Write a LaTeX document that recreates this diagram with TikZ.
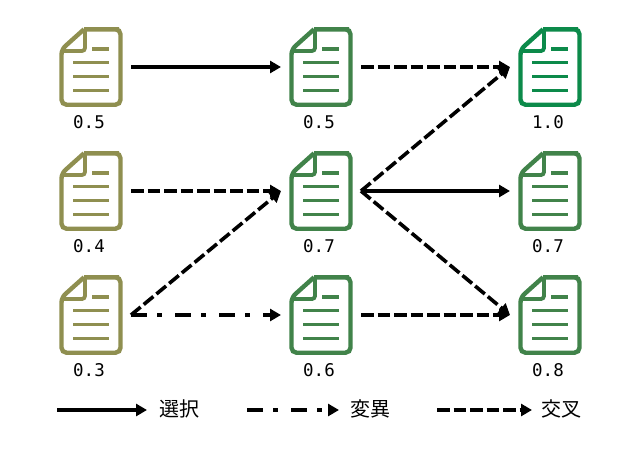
\documentclass[tikz,border=0pt]{standalone}
\usepackage{fontspec}
\setmonofont{DejaVu Sans Mono}
\newfontfamily\cjk{Noto Sans CJK JP}
\usetikzlibrary{positioning}
\usetikzlibrary{arrows.meta}
\definecolor{docolive}{HTML}{8F8F50}
\definecolor{docgreen}{HTML}{41834A}
\definecolor{docbright}{HTML}{0C8A4A}

\begin{document}
\begin{tikzpicture}[x=1pt, y=-1pt,
        docbox/.style={inner sep=0pt, minimum width=62pt, minimum height=79pt, outer sep=9pt},
        docval/.style={text=black, font=\ttfamily\fontsize{17.5}{17.5}\selectfont, inner sep=0pt},
        pics/doc/.style={code={
            \node[docbox] (-box) {};
            \draw[line width=4.4pt, rounded corners=5pt] (-7,-37.7) -- (23,-37.7) -- (29.5,-37.7) -- (29.5,37.7) -- (-29.5,37.7) -- (-29.5,-17.5) [sharp corners] -- (-7,-37.7);
            \draw[line width=3.8pt, rounded corners=3pt] (-6,-37) -- (-6,-16) -- (-29.5,-16);
            \draw[line width=3.5pt] (1.3,-18) -- (18,-18);
            \foreach \y in {-4.5,9.5,23.5}
                \draw[line width=3.5pt] (-18,\y) -- (18,\y);
            \node[docval] (-val) at (-2,55) {#1};
        }},
        arrow/.style={line width=3.6pt, -{Triangle[width=12pt,length=11pt]}},
        select/.style={arrow},
        mutate/.style={arrow, dash pattern=on 16pt off 10pt on 5pt off 13pt},
        cross/.style={arrow, dash pattern=on 12.5pt off 4pt},
        legend/.style={font=\cjk\fontsize{20}{20}\selectfont, inner sep=0pt}]
    \useasboundingbox (0,0) rectangle (640,450);

    \pic[docolive] (a1) at (91,67) {doc=0.5};
    \pic[docolive] (a2) at (91,191) {doc=0.4};
    \pic[docolive] (a3) at (91,315) {doc=0.3};

    \pic[docgreen] (b1) at (321,67) {doc=0.5};
    \pic[docgreen] (b2) at (321,191) {doc=0.7};
    \pic[docgreen] (b3) at (321,315) {doc=0.6};

    \pic[docbright] (c1) at (550,67) {doc=1.0};
    \pic[docgreen] (c2) at (550,191) {doc=0.7};
    \pic[docgreen] (c3) at (550,315) {doc=0.8};

    \draw[select] (a1-box.east) -- (b1-box.west);
    \draw[cross] (a2-box.east) -- (b2-box.west);
    \draw[cross] (a3-box.east) -- (b2-box.west);
    \draw[mutate] (a3-box.east) -- (b3-box.west);

    \draw[cross] (b1-box.east) -- (c1-box.west);
    \draw[cross] (b2-box.east) -- (c1-box.west);
    \draw[select] (b2-box.east) -- (c2-box.west);
    \draw[cross] (b2-box.east) -- (c3-box.west);
    \draw[cross] (b3-box.east) -- (c3-box.west);

    % legend
    \coordinate (s1) at (57,410);
    \coordinate (s2) at (147,410);
    \coordinate (m1) at (247,410);
    \coordinate (m2) at (339,410);
    \coordinate (k1) at (437,410);
    \coordinate (k2) at (532,410);
    \draw[select] (s1) -- (s2);
    \draw[mutate] (m1) -- (m2);
    \draw[cross] (k1) -- (k2);
    \node[legend] (sel) at (179.5,409) {選択};
    \node[legend] (mut) at (370.5,409) {変異};
    \node[legend] (crs) at (561.5,409) {交叉};
\end{tikzpicture}
\end{document}
